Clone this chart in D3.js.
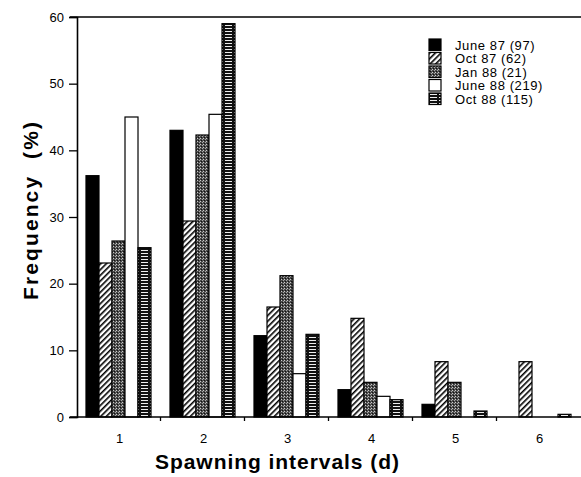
<!DOCTYPE html>
<html>
<head>
<meta charset="utf-8">
<script src="https://cdn.jsdelivr.net/npm/d3@7"></script>
<style>
  body { margin: 0; background: #fff; }
  svg { display: block; font-family: "Liberation Sans", Arial, Helvetica, sans-serif; }
</style>
</head>
<body>
<svg width="581" height="477"></svg>
<script>
const categories = ["1", "2", "3", "4", "5", "6"];
const seriesNames = ["June 87 (97)", "Oct 87 (62)", "Jan 88 (21)", "June 88 (219)", "Oct 88 (115)"];
const june87 = [36.2, 43.0, 12.2, 4.1, 1.9, 0];
const oct87 = [23.1, 29.4, 16.5, 14.8, 8.3, 8.3];
const jan88 = [26.4, 42.3, 21.2, 5.2, 5.2, 0];
const june88 = [45.0, 45.4, 6.5, 3.1, 0, 0];
const oct88 = [25.4, 59.0, 12.4, 2.6, 0.9, 0.4];
const yTicks = [0, 10, 20, 30, 40, 50, 60];

const seriesValues = [june87, oct87, jan88, june88, oct88];
const fills = ["#000", "url(#hatch)", "url(#stipple)", "#fff", "url(#stripes)"];

const svg = d3.select("svg");

// patterns for the bar fills
const defs = svg.append("defs");

const hatch = defs.append("pattern")
  .attr("id", "hatch")
  .attr("patternUnits", "userSpaceOnUse")
  .attr("width", 4).attr("height", 4)
  .attr("patternTransform", "rotate(45)");
hatch.append("rect").attr("width", 4).attr("height", 4).attr("fill", "#fff");
hatch.append("rect").attr("width", 1.6).attr("height", 4).attr("fill", "#000");

const stipple = defs.append("pattern")
  .attr("id", "stipple")
  .attr("patternUnits", "userSpaceOnUse")
  .attr("width", 3).attr("height", 3);
stipple.append("rect").attr("width", 3).attr("height", 3).attr("fill", "#4a4a4a");
stipple.append("rect").attr("x", 0).attr("y", 0).attr("width", 1).attr("height", 1).attr("fill", "#ccc");
stipple.append("rect").attr("x", 2).attr("y", 1).attr("width", 1).attr("height", 1).attr("fill", "#aaa");
stipple.append("rect").attr("x", 1).attr("y", 2).attr("width", 1).attr("height", 1).attr("fill", "#111");

const stripes = defs.append("pattern")
  .attr("id", "stripes")
  .attr("patternUnits", "userSpaceOnUse")
  .attr("width", 9).attr("height", 3);
stripes.append("rect").attr("width", 9).attr("height", 3).attr("fill", "#111");
stripes.append("rect").attr("x", 1).attr("y", 1).attr("width", 7).attr("height", 1).attr("fill", "#eee");

// scales
const x0 = d3.scaleBand()
  .domain(categories)
  .range([76.5, 580.5])
  .paddingInner(0.226)
  .paddingOuter(0.113);

const x1 = d3.scaleBand()
  .domain(seriesNames)
  .range([0, x0.bandwidth()]);

const y = d3.scaleLinear()
  .domain([0, 60])
  .range([417, 17]);

// bars
const groups = svg.append("g")
  .selectAll("g")
  .data(categories)
  .join("g")
  .attr("transform", (d) => `translate(${x0(d)},0)`);

groups.selectAll("rect")
  .data((d, i) => seriesNames.map((s, j) => ({ s, j, v: seriesValues[j][i] })))
  .join("rect")
  .filter((d) => d.v > 0)
  .attr("x", (d) => x1(d.s))
  .attr("y", (d) => y(d.v))
  .attr("width", x1.bandwidth())
  .attr("height", (d) => y(0) - y(d.v))
  .attr("fill", (d) => fills[d.j])
  .attr("stroke", "#000")
  .attr("stroke-width", 1.2);

// frame line at the top
svg.append("line")
  .attr("x1", 70).attr("x2", 581)
  .attr("y1", y(60)).attr("y2", y(60))
  .attr("stroke", "#000").attr("stroke-width", 1.6);

// y axis
const yAxis = svg.append("g")
  .attr("transform", "translate(77,0)")
  .call(d3.axisLeft(y).tickValues(yTicks).tickSize(8).tickPadding(5));
yAxis.select(".domain").attr("stroke-width", 1.6);
yAxis.selectAll(".tick line").attr("stroke-width", 1.3);
yAxis.selectAll(".tick text")
  .attr("font-size", 13)
  .attr("font-family", "Liberation Sans, Arial, sans-serif")
  .attr("fill", "#000");

// x axis: baseline, ticks between groups, labels at centres
const step = x0.step();
const bounds = categories.slice(1).map((c) => x0(c) - (step - x0.bandwidth()) / 2);

svg.append("line")
  .attr("x1", 70).attr("x2", 581)
  .attr("y1", y(0)).attr("y2", y(0))
  .attr("stroke", "#000").attr("stroke-width", 1.6);

svg.append("g")
  .selectAll("line")
  .data(bounds)
  .join("line")
  .attr("x1", (d) => d).attr("x2", (d) => d)
  .attr("y1", y(0)).attr("y2", y(0) + 4)
  .attr("stroke", "#000").attr("stroke-width", 1.3);

svg.append("g")
  .selectAll("text")
  .data(categories)
  .join("text")
  .attr("x", (d) => x0(d) + x0.bandwidth() / 2 + 1)
  .attr("y", 443)
  .attr("text-anchor", "middle")
  .attr("font-size", 13)
  .text((d) => d);

// axis titles
svg.append("text")
  .attr("x", 277)
  .attr("y", 469)
  .attr("text-anchor", "middle")
  .attr("font-size", 21)
  .attr("font-weight", "bold")
  .attr("textLength", 244)
  .attr("lengthAdjust", "spacing")
  .text("Spawning intervals (d)");

svg.append("text")
  .attr("transform", "translate(38,211) rotate(-90)")
  .attr("text-anchor", "middle")
  .attr("font-size", 21)
  .attr("font-weight", "bold")
  .attr("textLength", 178)
  .attr("lengthAdjust", "spacing")
  .style("white-space", "pre")
  .text("Frequency  (%)");

// legend
const legend = svg.append("g")
  .attr("transform", "translate(429,39)")
  .selectAll("g")
  .data(seriesNames)
  .join("g")
  .attr("transform", (d, i) => `translate(0,${i * 13.5})`);

legend.append("rect")
  .attr("width", 12).attr("height", 11.5)
  .attr("fill", (d, i) => fills[i])
  .attr("stroke", "#000")
  .attr("stroke-width", 1.2);

legend.append("text")
  .attr("x", 26)
  .attr("y", 10.5)
  .attr("font-size", 13)
  .attr("letter-spacing", 0.6)
  .text((d) => d);
</script>
</body>
</html>
